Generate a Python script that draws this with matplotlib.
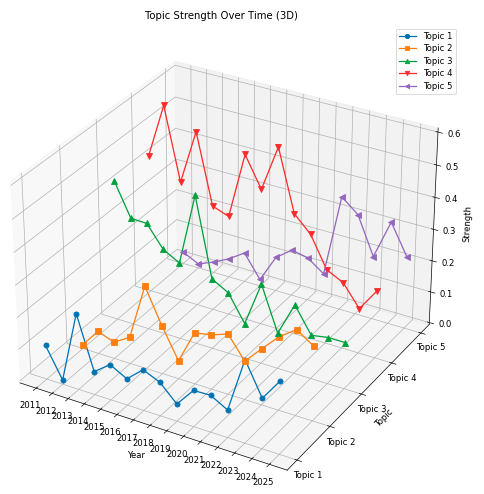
import matplotlib
matplotlib.use("Agg")
from matplotlib import pyplot as plt

years = list(range(2011, 2026))
topics = ["Topic 1", "Topic 2", "Topic 3", "Topic 4", "Topic 5"]

topic1 = [0.101, 0.007, 0.232, 0.067, 0.105, 0.077, 0.122, 0.099, 0.048, 0.107, 0.109, 0.080, 0.251, 0.150, 0.219]
topic2 = [0.006, 0.065, 0.046, 0.078, 0.255, 0.147, 0.051, 0.156, 0.165, 0.184, 0.115, 0.170, 0.223, 0.261, 0.226]
topic3 = [0.436, 0.333, 0.331, 0.264, 0.236, 0.461, 0.216, 0.187, 0.105, 0.245, 0.106, 0.211, 0.131, 0.140, 0.140]
topic4 = [0.431, 0.600, 0.375, 0.546, 0.328, 0.309, 0.516, 0.422, 0.566, 0.375, 0.325, 0.229, 0.203, 0.136, 0.207]
topic5 = [0.032, 0.007, 0.028, 0.054, 0.088, 0.015, 0.103, 0.142, 0.131, 0.094, 0.356, 0.314, 0.195, 0.319, 0.224]

series = [topic1, topic2, topic3, topic4, topic5]
colors = ["#0072B2", "#FF7F0E", "#00A03C", "#FF2A2A", "#9467BD"]
markers = ["o", "s", "^", "v", "<"]

DPI = 61
fig = plt.figure(figsize=(484 / DPI, 494 / DPI), dpi=DPI)
ax = fig.add_axes([-0.033, -0.015, 0.983, 0.968], projection="3d")

for i, vals in enumerate(series):
    ax.plot(years, [i] * len(years), vals, marker=markers[i], color=colors[i], label=topics[i])

ax.set_xticks(years)
ax.set_yticks(range(len(topics)))
ax.set_yticklabels(topics)
ax.set_xlabel("Year")
ax.set_ylabel("Topic")
ax.set_zlabel("Strength")
ax.set_title("Topic Strength Over Time (3D)")
ax.legend(loc="upper right", labelspacing=0.4, markerscale=0.85)

fig.savefig("out.png", dpi=DPI)
